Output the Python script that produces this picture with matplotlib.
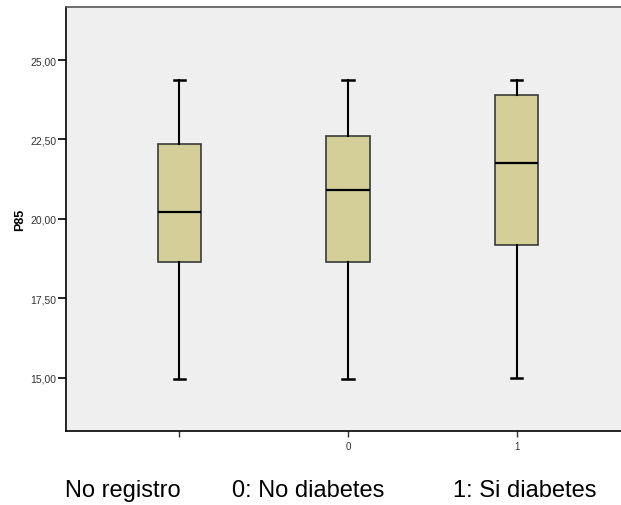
import matplotlib
matplotlib.use("Agg")
import matplotlib.pyplot as plt

plt.rcParams["font.family"] = ["Liberation Sans", "DejaVu Sans"]

# grupos de diabetes y resumen de P85 por grupo
groups = ["", "0", "1"]
group_names = ["No registro", "0: No diabetes", "1: Si diabetes"]
whisker_low = [14.96, 14.95, 14.99]
q1 = [18.65, 18.63, 19.18]
median = [20.20, 20.92, 21.77]
q3 = [22.36, 22.61, 23.89]
whisker_high = [24.38, 24.38, 24.38]
yticks = [15.0, 17.5, 20.0, 22.5, 25.0]

stats = [{"whislo": lo, "q1": a, "med": m, "q3": b, "whishi": hi, "label": g}
         for lo, a, m, b, hi, g in zip(whisker_low, q1, median, q3, whisker_high, groups)]

fig = plt.figure(figsize=(6.21, 5.06), dpi=100)
ax = fig.add_axes([66 / 621, (506 - 432) / 506, 1 - 66 / 621, (432 - 8) / 506])
ax.set_facecolor("#efefef")

pos = [1, 2, 3]
ax.bxp(stats, positions=pos, widths=0.256, capwidths=0.066, patch_artist=True, showfliers=False,
       boxprops=dict(facecolor="#d4cf98", edgecolor="#3a3a3a", linewidth=1.2),
       medianprops=dict(color="black", linewidth=1.6),
       whiskerprops=dict(color="black", linewidth=1.5),
       capprops=dict(color="black", linewidth=1.8))

ax.set_xlim(0.33, 3.617)
ax.set_ylim(13.32, 26.67)
ax.set_yticks(yticks)
ax.set_yticklabels([f"{v:.2f}".replace(".", ",") for v in yticks])
ax.set_xticks(pos)
ax.set_xticklabels(groups)
ax.tick_params(axis="y", direction="out", length=6, width=1.2, labelsize=7.5, colors="black",
               labelcolor="#333333", pad=1)
ax.tick_params(axis="x", direction="out", length=4, width=1.0, labelsize=7, colors="#333333", pad=3)
ax.set_ylabel("P85", fontsize=9, fontweight="bold", labelpad=3)

ax.spines["right"].set_visible(False)
ax.spines["top"].set_color("#555555")
ax.spines["left"].set_color("black")
ax.spines["bottom"].set_color("black")
for s in ("top", "left", "bottom"):
    ax.spines[s].set_linewidth(1.2)

# leyenda de códigos bajo el eje
for x, name in zip([65, 232, 453], group_names):
    fig.text(x / 621, 1 - 497 / 506, name, fontsize=17, ha="left", va="baseline", color="black")

fig.savefig("out.png", dpi=100)
